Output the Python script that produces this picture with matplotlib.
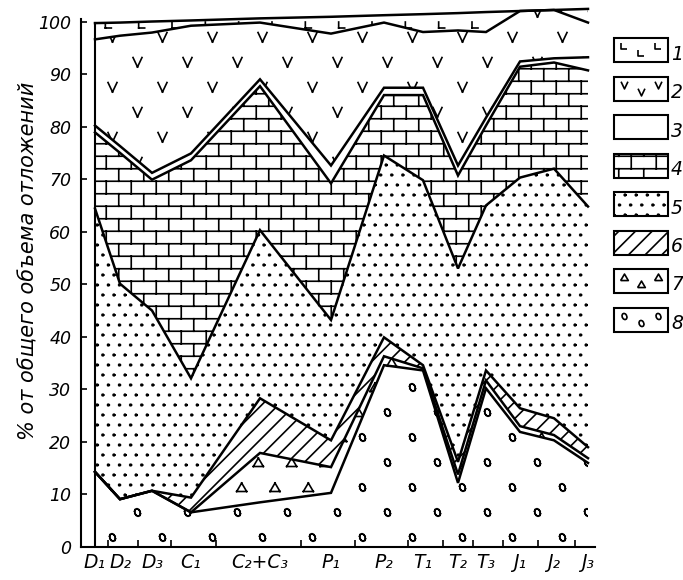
import warnings
import numpy as np
import matplotlib
matplotlib.use('Agg')
import matplotlib.pyplot as plt
import matplotlib.hatch as mhatch
from matplotlib.path import Path
from matplotlib.patches import Rectangle
from matplotlib.lines import Line2D

warnings.filterwarnings('ignore')

# stratigraphic units on the x axis (position = middle of the unit)
stages = ['D₁', 'D₂', 'D₃', 'C₁', 'C₂+C₃', 'P₁', 'P₂', 'T₁', 'T₂', 'T₃', 'J₁', 'J₂', 'J₃']
stage_x = [14, 39, 71, 110, 179, 250, 303, 342, 377, 405, 439, 473, 507]
stage_bounds = [27, 57, 90, 135, 220, 274, 327, 362, 392, 422, 457, 494]

# cumulative upper boundary of every rock group, % of total volume
top8 = [14.3, 9.1, 10.7, 6.6, 8.5, 10.3, 34.6, 33.6, 12.2, 30.2, 21.9, 20.3, 16.0]
top7 = [14.3, 9.1, 10.7, 6.6, 17.9, 15.2, 36.3, 34.0, 13.8, 31.7, 23.0, 21.3, 16.9]
top6 = [14.3, 9.1, 10.7, 9.4, 28.3, 20.3, 39.9, 34.6, 16.2, 33.6, 26.4, 24.5, 19.0]
top5 = [64.4, 50.1, 45.0, 32.1, 60.3, 43.2, 74.5, 69.8, 53.0, 65.0, 70.3, 72.0, 64.8]
top4 = [78.9, 75.0, 69.9, 73.6, 87.7, 69.2, 86.0, 86.0, 70.7, 80.2, 91.4, 92.2, 90.7]
top3 = [80.2, 76.3, 71.2, 74.9, 89.0, 72.6, 87.4, 87.4, 72.6, 81.7, 92.4, 93.0, 93.2]
top2 = [96.6, 97.3, 97.9, 99.2, 99.8, 97.7, 99.8, 98.0, 98.3, 98.0, 102.0, 102.2, 99.8]
top1 = [99.7, 99.8, 100.0, 100.2, 100.6, 100.9, 101.2, 101.4, 101.6, 101.8, 102.0, 102.2, 102.4]

legend_labels = ['1', '2', '3', '4', '5', '6', '7', '8']
# 1 L-signs, 2 V-signs, 3 blank, 4 bricks, 5 dots, 6 hatching, 7 triangles, 8 circles
layer_hatches = ['l', 'v', '', 'b', 'd', '//', 't', 'c']


# --- home made hatch patterns (tile = 100 px) ---
class MotifHatch(mhatch.HatchPatternBase):
    key = ''
    nx, ny = 2, 4
    parts = []
    filled = False

    def __init__(self, hatch, density):
        n = sum(len(p) if self.filled else 2 * (len(p) - 1) for p in self.parts)
        on = bool(hatch) and self.key in hatch
        self.num_vertices = n * self.nx * self.ny if on else 0

    def set_vertices_and_codes(self, vertices, codes):
        vv, cc = [], []
        for i in range(self.ny):
            for j in range(self.nx):
                cx = (j + 0.25 + 0.5 * (i % 2)) / self.nx
                cy = (i + 0.5) / self.ny
                for p in self.parts:
                    p = np.asarray(p, float) / 100 + (cx, cy)
                    if self.filled:
                        vv.extend(p)
                        cc.extend([Path.MOVETO] + [Path.LINETO] * (len(p) - 1))
                    else:
                        for a, b in zip(p[:-1], p[1:]):
                            vv.extend([a, b])
                            cc.extend([Path.MOVETO, Path.LINETO])
        vertices[:] = np.array(vv)
        codes[:] = cc


def ellipse(w, h, tilt, n=10):
    t = np.linspace(0, 2 * np.pi, n + 1)
    x, y = w / 2 * np.cos(t), h / 2 * np.sin(t)
    c, s = np.cos(tilt), np.sin(tilt)
    return np.column_stack([c * x - s * y, s * x + c * y])


L_SHAPE = [(-3, 3), (-3, -3), (3, -3)]
V_SHAPE = [(-4.5, 5), (0, -4.5), (4.5, 5)]
TRI_SHAPE = [(-5, -4), (5, -4), (0, 4.5), (-5, -4)]
CIRC_SHAPE = ellipse(5.5, 7.5, 0.4)


class LHatch(MotifHatch):
    key = 'l'
    nx, ny = 3, 6
    parts = [L_SHAPE]


class VHatch(MotifHatch):
    key = 'v'
    nx, ny = 2, 4
    parts = [V_SHAPE]


class TriHatch(MotifHatch):
    key = 't'
    nx, ny = 3, 4
    parts = [TRI_SHAPE]


class CircleHatch(MotifHatch):
    key = 'c'
    nx, ny = 2, 4
    parts = [CIRC_SHAPE]


class DotHatch(MotifHatch):
    key = 'd'
    nx, ny = 9, 10
    filled = True
    parts = [ellipse(1.7, 1.7, 0, 6)]


class BrickHatch(mhatch.HatchPatternBase):
    rows, cols = 8, 4

    def __init__(self, hatch, density):
        on = bool(hatch) and 'b' in hatch
        self.num_vertices = 2 * (self.rows + self.rows * self.cols + self.cols) if on else 0

    def set_vertices_and_codes(self, vertices, codes):
        R, C = self.rows, self.cols
        segs = []
        for i in range(R):
            y0 = (i + 0.5) / R
            segs.append(((0, y0), (1, y0)))
            for j in range(C):
                x = (j + 0.25 + 0.5 * (i % 2)) / C
                segs.append(((x, y0), (x, min(y0 + 1 / R, 1))))
        for j in range(C):
            x = (j + 0.25 + 0.5 * ((R - 1) % 2)) / C
            segs.append(((x, 0), (x, 0.5 / R)))
        vertices[:] = np.array(segs, float).reshape(-1, 2)
        codes[:] = [Path.MOVETO, Path.LINETO] * len(segs)


mhatch._hatch_types.extend([LHatch, VHatch, TriHatch, CircleHatch, DotHatch, BrickHatch])

plt.rcParams['font.family'] = ['Liberation Sans Narrow', 'DejaVu Sans']
plt.rcParams['font.style'] = 'italic'
plt.rcParams['hatch.color'] = 'black'
plt.rcParams['hatch.linewidth'] = 1.2

fig = plt.figure(figsize=(6.83, 5.80), dpi=100)
ax = fig.add_axes([81 / 683, 1 - 547 / 580, 514 / 683, 546.5 / 580])
ax.set_xlim(0, 514)
ax.set_ylim(0, 104)

tops = [top8, top7, top6, top5, top4, top3, top2, top1]
lowers = [[0] * len(stage_x)] + tops[:-1]
hatches_bottom_up = layer_hatches[::-1]
for lo, hi, h in zip(lowers, tops, hatches_bottom_up):
    ax.fill_between(stage_x, lo, hi, facecolor='white', edgecolor='black',
                    hatch=h, linewidth=0, zorder=1)

for top in tops:
    ax.plot(stage_x, top, color='black', lw=1.8, solid_joinstyle='miter',
            zorder=3, clip_on=False)
ax.plot([stage_x[0], stage_x[0]], [0, top1[0]], color='black', lw=1.5, zorder=3)

# axes
for side in ['top', 'right']:
    ax.spines[side].set_visible(False)
ax.spines['left'].set_bounds(0, 100.5)
ax.spines['left'].set_linewidth(1.5)
ax.spines['bottom'].set_linewidth(1.5)

ax.set_yticks(range(0, 101, 10))
ax.set_yticklabels([str(v) for v in range(0, 101, 10)], fontsize=12.5, style='italic')
ax.tick_params(axis='y', direction='in', length=4.5, width=1.2, pad=7)

ax.set_xticks(stage_bounds)
ax.set_xticklabels([''] * len(stage_bounds))
ax.set_xticks(stage_x, stages, minor=True, fontsize=13.5, style='italic')
ax.tick_params(axis='x', which='major', direction='in', length=5, width=1.2)
ax.tick_params(axis='x', which='minor', length=0, pad=4)

fig.text(29 / 683, 1 - 261 / 580, '% от общего объема отложений', rotation=90,
         ha='center', va='center', fontsize=15, style='italic',
         family=['DejaVu Sans'])

# legend boxes on the right; motif signs are drawn as three markers per box
legend_signs = {0: L_SHAPE, 1: V_SHAPE, 6: TRI_SHAPE, 7: CIRC_SHAPE}
legend_sign_size = {0: 4.5, 1: 5.5, 6: 5.5, 7: 4.5}
for k, (lab, h) in enumerate(zip(legend_labels, layer_hatches)):
    top_px = 38 + 38.5 * k
    sign = legend_signs.get(k)
    rect = Rectangle((614 / 683, 1 - (top_px + 24) / 580), 54 / 683, 24 / 580,
                     transform=fig.transFigure, facecolor='white',
                     edgecolor='black', hatch=None if sign is not None else h, lw=1.5)
    fig.add_artist(rect)
    if sign is not None:
        xs = [641 - 17, 641, 641 + 17]
        ys = [top_px + 8, top_px + 15, top_px + 8]
        fig.add_artist(Line2D([x / 683 for x in xs], [1 - y / 580 for y in ys],
                              transform=fig.transFigure, ls='none',
                              marker=Path(np.asarray(sign, float)),
                              ms=legend_sign_size[k],
                              mfc='none', mec='black', mew=1.2))
    fig.text(671 / 683, 1 - (top_px + 16) / 580, lab, fontsize=13.5,
             ha='left', va='center')

fig.savefig('out.png', dpi=100)
